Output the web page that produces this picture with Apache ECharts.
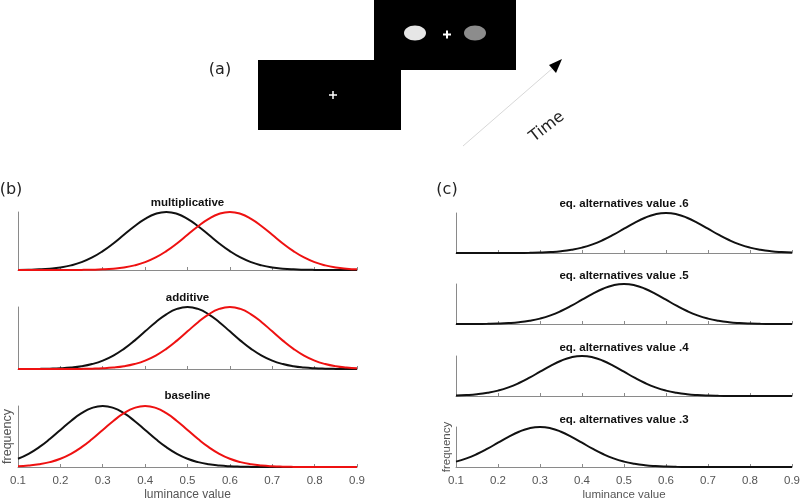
<!DOCTYPE html>
<html>
<head>
<meta charset="utf-8">
<script src="https://cdn.jsdelivr.net/npm/echarts@6/dist/echarts.min.js"></script>
<style>html,body{margin:0;padding:0;background:#fff}#c{width:800px;height:499px}</style>
</head>
<body>
<div id="c"></div>
<script>
// luminance sample positions
const lum = [0.1,0.125,0.15,0.175,0.2,0.225,0.25,0.275,0.3,0.325,0.35,0.375,0.4,0.425,0.45,0.475,0.5,0.525,0.55,0.575,0.6,0.625,0.65,0.675,0.7,0.725,0.75,0.775,0.8,0.825,0.85,0.875,0.9];
const xTicks = [0.1,0.2,0.3,0.4,0.5,0.6,0.7,0.8,0.9];

// panel (b) – multiplicative
const multBlack = [0.002,0.005,0.011,0.023,0.044,0.080,0.135,0.216,0.325,0.458,0.607,0.755,0.882,0.969,1,0.969,0.882,0.755,0.607,0.458,0.325,0.216,0.135,0.080,0.044,0.023,0.011,0.005,0.002,0.001,0,0,0];
const multRed   = [0,0,0,0,0,0.001,0.002,0.005,0.011,0.023,0.044,0.080,0.135,0.216,0.325,0.458,0.607,0.755,0.882,0.969,1,0.969,0.882,0.755,0.607,0.458,0.325,0.216,0.135,0.080,0.044,0.023,0.011];
// panel (b) – additive
const addBlack  = [0,0.001,0.002,0.005,0.011,0.023,0.044,0.080,0.135,0.216,0.325,0.458,0.607,0.755,0.882,0.969,1,0.969,0.882,0.755,0.607,0.458,0.325,0.216,0.135,0.080,0.044,0.023,0.011,0.005,0.002,0.001,0];
const addRed    = [0,0,0,0,0,0.001,0.002,0.005,0.011,0.023,0.044,0.080,0.135,0.216,0.325,0.458,0.607,0.755,0.882,0.969,1,0.969,0.882,0.755,0.607,0.458,0.325,0.216,0.135,0.080,0.044,0.023,0.011];
// panel (b) – baseline
const baseBlack = [0.135,0.216,0.325,0.458,0.607,0.755,0.882,0.969,1,0.969,0.882,0.755,0.607,0.458,0.325,0.216,0.135,0.080,0.044,0.023,0.011,0.005,0.002,0.001,0,0,0,0,0,0,0,0,0];
const baseRed   = [0.011,0.023,0.044,0.080,0.135,0.216,0.325,0.458,0.607,0.755,0.882,0.969,1,0.969,0.882,0.755,0.607,0.458,0.325,0.216,0.135,0.080,0.044,0.023,0.011,0.005,0.002,0.001,0,0,0,0,0];
// panel (c) – equal alternatives
const eq6 = [0,0,0,0,0,0.001,0.002,0.005,0.011,0.023,0.044,0.080,0.135,0.216,0.325,0.458,0.607,0.755,0.882,0.969,1,0.969,0.882,0.755,0.607,0.458,0.325,0.216,0.135,0.080,0.044,0.023,0.011];
const eq5 = [0,0.001,0.002,0.005,0.011,0.023,0.044,0.080,0.135,0.216,0.325,0.458,0.607,0.755,0.882,0.969,1,0.969,0.882,0.755,0.607,0.458,0.325,0.216,0.135,0.080,0.044,0.023,0.011,0.005,0.002,0.001,0];
const eq4 = [0.011,0.023,0.044,0.080,0.135,0.216,0.325,0.458,0.607,0.755,0.882,0.969,1,0.969,0.882,0.755,0.607,0.458,0.325,0.216,0.135,0.080,0.044,0.023,0.011,0.005,0.002,0.001,0,0,0,0,0];
const eq3 = [0.135,0.216,0.325,0.458,0.607,0.755,0.882,0.969,1,0.969,0.882,0.755,0.607,0.458,0.325,0.216,0.135,0.080,0.044,0.023,0.011,0.005,0.002,0.001,0,0,0,0,0,0,0,0,0];

const panelTitles = ['multiplicative','additive','baseline','eq. alternatives value .6','eq. alternatives value .5','eq. alternatives value .4','eq. alternatives value .3'];
const xName = 'luminance value';
const yName = 'frequency';

const grids = [
  {left:18, top:212, width:339, height:58},
  {left:18, top:307, width:339, height:62},
  {left:18, top:406, width:339, height:61},
  {left:456, top:213, width:336, height:40},
  {left:456, top:284, width:336, height:40},
  {left:456, top:356, width:336, height:40},
  {left:456, top:427, width:336, height:40}
];
const bottomIdx = [2, 6];
const AX = '#8a8a8a';
const FONT = '"Liberation Sans", Arial, sans-serif';

const xAxes = grids.map((g, i) => ({
  type:'value', gridIndex:i, min:0.1, max:0.9, interval:0.1,
  axisLine:{show:true, onZero:false, lineStyle:{color:AX, width:1}},
  axisTick:{show:true, inside:true, length:3, lineStyle:{color:AX}},
  axisLabel:{show:bottomIdx.includes(i), color:'#555', fontSize:11.5, fontFamily:FONT, margin:8,
    showMinLabel:true, showMaxLabel:true, formatter:v => v.toFixed(1)},
  splitLine:{show:false},
  name: bottomIdx.includes(i) ? xName : '',
  nameLocation:'middle', nameGap:22,
  nameTextStyle:{color:'#555', fontSize: i===2 ? 12 : 11.5, fontFamily:FONT}
}));
const yAxes = grids.map((g, i) => ({
  type:'value', gridIndex:i, min:0, max:1,
  axisLine:{show:true, lineStyle:{color:AX, width:1}},
  axisTick:{show:false}, axisLabel:{show:false}, splitLine:{show:false},
  name: bottomIdx.includes(i) ? yName : '',
  nameLocation:'middle', nameGap: i===2 ? 4 : 3,
  nameTextStyle:{color:'#555', fontSize: i===2 ? 12.5 : 11.5, fontFamily:FONT}
}));

const pairs = arr => lum.map((x, k) => [x, arr[k]]);
const BLACK = '#111', RED = '#ee1111';
const mk = (arr, idx, color) => ({
  type:'line', xAxisIndex:idx, yAxisIndex:idx, data:pairs(arr),
  smooth:0.5, showSymbol:false, silent:true,
  lineStyle:{color, width:2}, z: color===RED ? 3 : 2
});
const series = [
  mk(multBlack,0,BLACK), mk(multRed,0,RED),
  mk(addBlack,1,BLACK), mk(addRed,1,RED),
  mk(baseBlack,2,BLACK), mk(baseRed,2,RED),
  mk(eq6,3,BLACK), mk(eq5,4,BLACK), mk(eq4,5,BLACK), mk(eq3,6,BLACK)
];

const titleY = [203, 298, 396, 204, 276, 348, 420];
const titleEls = panelTitles.map((t, i) => ({
  type:'text', silent:true,
  style:{text:t, x: grids[i].left + grids[i].width/2, y:titleY[i], align:'center', verticalAlign:'middle',
    fill:'#111', font:'bold 11.5px ' + FONT}
}));

const LBL = '16px "DejaVu Sans", sans-serif';
const graphic = [
  // panel (a)
  {type:'rect', shape:{x:258, y:60, width:143, height:70}, style:{fill:'#000'}},
  {type:'rect', shape:{x:374, y:0, width:142, height:70}, style:{fill:'#000'}},
  {type:'ellipse', shape:{cx:415, cy:33, rx:11, ry:7.5}, style:{fill:'#e6e6e6'}},
  {type:'ellipse', shape:{cx:475, cy:33, rx:11, ry:7.5}, style:{fill:'#8c8c8c'}},
  {type:'line', shape:{x1:443, y1:34.5, x2:451, y2:34.5}, style:{stroke:'#fff', lineWidth:2}},
  {type:'line', shape:{x1:447, y1:30.5, x2:447, y2:38.5}, style:{stroke:'#fff', lineWidth:2}},
  {type:'line', shape:{x1:329, y1:95, x2:337, y2:95}, style:{stroke:'#fff', lineWidth:1.5}},
  {type:'line', shape:{x1:333, y1:91, x2:333, y2:99}, style:{stroke:'#fff', lineWidth:1.5}},
  {type:'line', shape:{x1:463, y1:146, x2:554, y2:67}, style:{stroke:'#d8d8d8', lineWidth:1}},
  {type:'polygon', shape:{points:[[562,59],[549,65],[556,73]]}, style:{fill:'#000'}},
  {type:'text', x:547, y:127, rotation:0.66, style:{text:'Time', x:0, y:0, align:'center', verticalAlign:'middle', fill:'#222', font:'16px "DejaVu Sans", sans-serif'}},
  {type:'text', style:{text:'(a)', x:220, y:70, align:'center', verticalAlign:'middle', fill:'#222', font:LBL}},
  {type:'text', style:{text:'(b)', x:11, y:190, align:'center', verticalAlign:'middle', fill:'#222', font:LBL}},
  {type:'text', style:{text:'(c)', x:447, y:190, align:'center', verticalAlign:'middle', fill:'#222', font:LBL}},
  ...titleEls
];

const chart = echarts.init(document.getElementById('c'), null, {renderer:'canvas'});
chart.setOption({
  animation:false,
  backgroundColor:'#fff',
  grid: grids.map(g => Object.assign({containLabel:false, outerBoundsMode:'none'}, g)),
  xAxis:xAxes, yAxis:yAxes, series, graphic
});
</script>
</body>
</html>
